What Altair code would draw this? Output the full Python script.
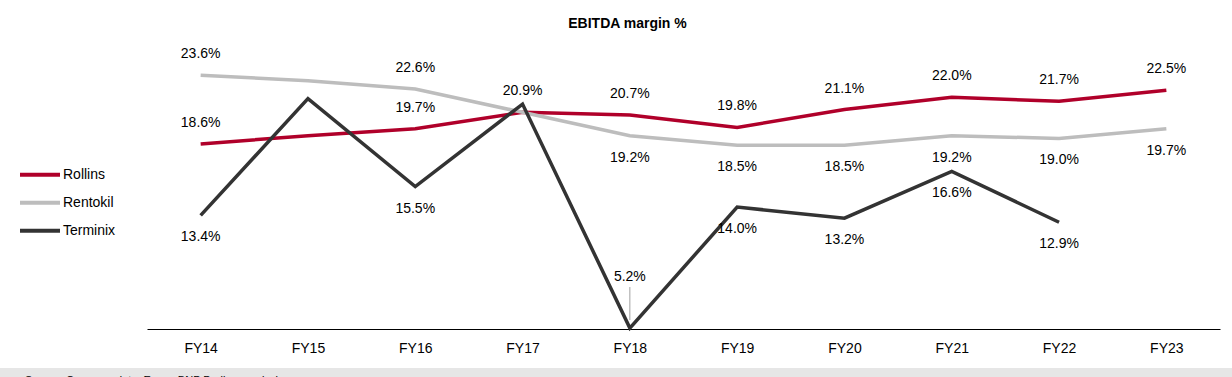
import altair as alt
import pandas as pd

years = ["FY14", "FY15", "FY16", "FY17", "FY18", "FY19", "FY20", "FY21", "FY22", "FY23"]
series_names = ["Rollins", "Rentokil", "Terminix"]
series_colors = ["#B0002A", "#BDBDBD", "#333333"]

rollins = [18.6, 19.2, 19.7, 20.9, 20.7, 19.8, 21.1, 22.0, 21.7, 22.5]
rentokil = [23.6, 23.2, 22.6, 20.9, 19.2, 18.5, 18.5, 19.2, 19.0, 19.7]
terminix = [13.4, 21.9, 15.5, 21.5, 5.2, 14.0, 13.2, 16.6, 12.9, None]

# where each value label sits ("" = no label)
rollins_pos = ["above", "", "above", "above", "above", "above", "above", "above", "above", "above"]
rentokil_pos = ["above", "", "above", "", "below", "below", "below", "below", "below", "below"]
terminix_pos = ["below", "", "below", "", "leader", "below", "below", "below", "below", ""]

footnote = ["Source: Company data, Exane BNP Paribas analysis"]

rows = []
for name, vals, poss in zip(series_names, [rollins, rentokil, terminix],
                            [rollins_pos, rentokil_pos, terminix_pos]):
    for yr, v, p in zip(years, vals, poss):
        if v is None:
            continue
        rows.append(dict(series=name, year=yr, value=v, pos=p, label=f"{v:.1f}%"))
df = pd.DataFrame(rows)

W, H = 1073, 273
FONT = "Liberation Sans"

x = alt.X("year:N", sort=years,
          scale=alt.Scale(type="point", padding=0.5),
          axis=alt.Axis(title=None, labelAngle=0, ticks=False, domainColor="#000000",
                        domainWidth=1, labelFontSize=14, labelColor="#000000",
                        labelPadding=12, grid=False))
y = alt.Y("value:Q", scale=alt.Scale(domain=[5.13, 25], zero=False, nice=False), axis=None)

base = alt.Chart(df)

lines = base.mark_line(strokeWidth=3.5).encode(
    x=x, y=y,
    color=alt.Color("series:N",
                    scale=alt.Scale(domain=series_names, range=series_colors),
                    legend=alt.Legend(title=None, orient="none", legendX=-129, legendY=105,
                                      symbolType="stroke", symbolSize=1600,
                                      symbolStrokeWidth=4, labelFontSize=14,
                                      labelColor="#000000", labelOffset=1,
                                      clipHeight=27.5, rowPadding=0, padding=0)),
    order=alt.value(0),
)

above = base.transform_filter(alt.datum.pos == "above").mark_text(
    dy=-21, fontSize=14, color="#000000").encode(x=x, y=y, text="label:N")
below = base.transform_filter(alt.datum.pos == "below").mark_text(
    dy=22, fontSize=14, color="#000000").encode(x=x, y=y, text="label:N")
leader_txt = base.transform_filter(alt.datum.pos == "leader").mark_text(
    dy=-51, fontSize=14, color="#000000").encode(x=x, y=y, text="label:N")
leader_rule = base.transform_filter(alt.datum.pos == "leader").mark_rule(
    color="#A0A0A0", strokeWidth=1, yOffset=-8, y2Offset=-41).encode(
    x=x, y=y, y2=alt.Y2("value:Q"))

fdf = pd.DataFrame({"note": footnote})
band = alt.Chart(fdf).mark_rect(color="#E6E6E6").encode(
    x=alt.value(-147), x2=alt.value(1232 - 147), y=alt.value(312), y2=alt.value(330))
note = alt.Chart(fdf).mark_text(align="left", baseline="top", fontSize=11,
                                color="#000000").encode(
    x=alt.value(25 - 147), y=alt.value(318.5), text="note:N")

chart = alt.layer(band, note, lines, leader_rule, above, below, leader_txt).properties(
    width=W, height=H,
    title=alt.TitleParams("EBITDA margin %", fontSize=14, fontWeight="bold",
                          anchor="middle", dx=-56, offset=5, baseline="alphabetic",
                          color="#000000"),
    autosize=alt.AutoSizeParams(type="none"),
    padding={"left": 147, "top": 56, "right": 12, "bottom": 48},
).configure(font=FONT).configure_view(stroke=None)

chart.save("out.html", embed_options={"renderer": "svg", "actions": False})
